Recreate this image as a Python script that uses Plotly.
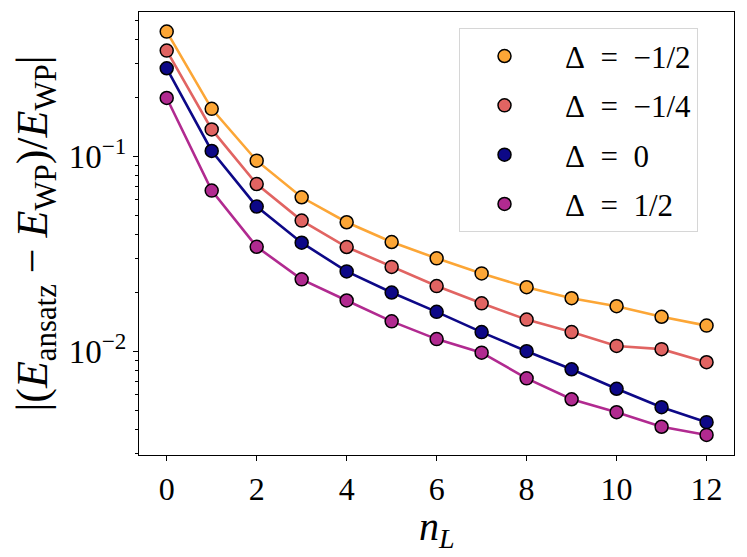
import plotly.graph_objects as go

n_L = list(range(13))

labels = ["Δ\u00a0\u00a0=\u00a0\u00a0−1/2", "Δ\u00a0\u00a0=\u00a0\u00a0−1/4", "Δ\u00a0\u00a0=\u00a0\u00a00", "Δ\u00a0\u00a0=\u00a0\u00a01/2"]
colors = ["#fca636", "#e16462", "#0d0887", "#b12a90"]

err_m12 = [0.438, 0.176, 0.0954, 0.0619, 0.0461, 0.0365, 0.0301, 0.0252, 0.0214, 0.0188, 0.0171, 0.0151, 0.0136]
err_m14 = [0.350, 0.138, 0.0724, 0.0470, 0.0344, 0.0272, 0.0217, 0.0177, 0.0146, 0.0126, 0.0107, 0.0103, 0.00883]
err_0 = [0.284, 0.107, 0.0555, 0.0362, 0.0258, 0.0201, 0.0160, 0.0126, 0.01005, 0.00812, 0.00645, 0.00519, 0.00435]
err_12 = [0.200, 0.0670, 0.0345, 0.0235, 0.0183, 0.0143, 0.0116, 0.00988, 0.00730, 0.00570, 0.00489, 0.00412, 0.00374]

x_ticks = [0, 2, 4, 6, 8, 10, 12]
y_ticks = [0.1, 0.01]
y_ticktext = ["10<sup>−1</sup>", "10<sup>−2</sup>"]
y_minor = [0.003, 0.004, 0.005, 0.006, 0.007, 0.008, 0.009,
           0.02, 0.03, 0.04, 0.05, 0.06, 0.07, 0.08, 0.09,
           0.2, 0.3, 0.4, 0.5]

font = "Liberation Serif"

fig = go.Figure()
for i, (lab, col, ys) in enumerate(zip(labels, colors, [err_m12, err_m14, err_0, err_12])):
    # line without legend entry, then markers with legend (legend shows only dots)
    fig.add_trace(go.Scatter(x=n_L, y=ys, mode="lines", line=dict(color=col, width=2.6),
                             showlegend=False, hoverinfo="skip"))
    fig.add_trace(go.Scatter(x=n_L, y=ys, mode="markers", name="\u00a0" * 2 + lab, legendgroup=str(i),
                             marker=dict(color=col, size=13, line=dict(color="black", width=1.5))))

fig.update_xaxes(range=[-0.616, 12.61], tickvals=x_ticks, ticks="outside", ticklen=5,
                 tickcolor="black", showline=True, linecolor="black", linewidth=1.2, mirror=True,
                 showgrid=False, zeroline=False, automargin=False,
                 tickfont=dict(family=font, size=32, color="black"))
fig.update_yaxes(type="log", range=[-2.53, -0.258], tickvals=y_ticks, ticktext=y_ticktext,
                 ticks="outside", ticklen=5, tickcolor="black",
                 minor=dict(tickvals=y_minor, ticks="outside", ticklen=3, tickcolor="black", showgrid=False),
                 showline=True, linecolor="black", linewidth=1.2, mirror=True, showgrid=False,
                 automargin=False, tickfont=dict(family=font, size=33, color="black"),
                 title=dict(text="|(<i>E</i><sub>ansatz</sub> − <i>E</i><sub>WP</sub>)/<i>E</i><sub>WP</sub>|",
                            font=dict(family=font, size=44, color="black"), standoff=17))

# x title as annotation so it can sit closer to the tick labels
fig.add_annotation(text="<i>n<sub>L</sub></i>", xref="paper", yref="paper", x=0.5, y=-0.107,
                   xanchor="center", yanchor="top", showarrow=False,
                   font=dict(family=font, size=40, color="black"))

# page has an 8px body margin, so margins are shifted to keep the plot area in place
fig.update_layout(width=747, height=557, plot_bgcolor="white", paper_bgcolor="white",
                  margin=dict(l=131, r=21, t=4, b=110),
                  legend=dict(x=0.537, y=0.963, xanchor="left", yanchor="top",
                              bgcolor="rgba(255,255,255,0.8)", bordercolor="#d6d6d6", borderwidth=1,
                              font=dict(family=font, size=31, color="black"),
                              tracegroupgap=6, itemwidth=80))

fig.write_html("out.html")
